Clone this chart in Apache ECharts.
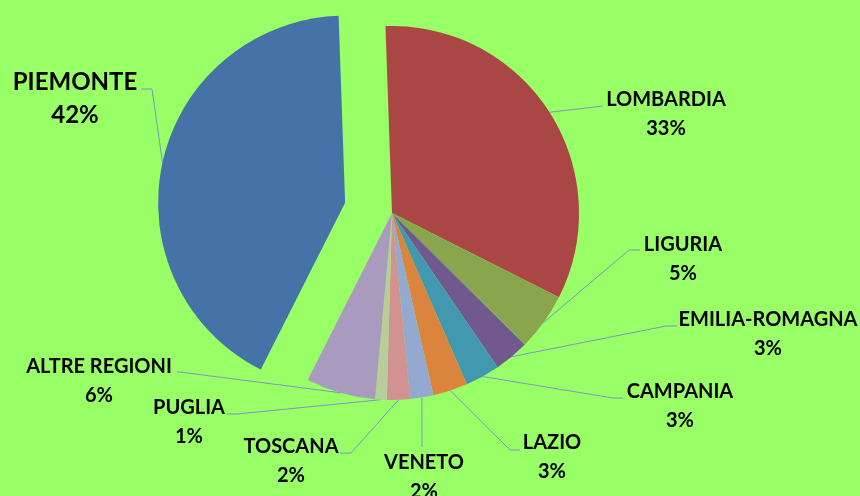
<!DOCTYPE html>
<html>
<head>
<meta charset="utf-8">
<script src="https://cdn.jsdelivr.net/npm/echarts@6/dist/echarts.min.js"></script>
<style>
  html, body { margin: 0; padding: 0; background: #99ff66; }
  #chart { width: 860px; height: 496px; }
</style>
</head>
<body>
<div id="chart"></div>
<script>
// regioni e percentuali (ordine orario dall'alto)
var regioni = ['LOMBARDIA', 'LIGURIA', 'EMILIA-ROMAGNA', 'CAMPANIA', 'LAZIO',
               'VENETO', 'TOSCANA', 'PUGLIA', 'ALTRE REGIONI', 'PIEMONTE'];
var percentuali = [33, 5, 3, 3, 3, 2, 2, 1, 6, 42];
var colori = ['#AA4643', '#89A54E', '#71588F', '#4198AF', '#DB843D',
              '#93A9CF', '#D19392', '#B9CD96', '#A99BBD', '#4572A7'];

// posizione etichette (centro testo) e punti di piega delle linee guida
var posEtichette = [
    [666, 114], [683, 259], [768, 334], [680, 406], [552, 457],
    [424, 477], [291, 461], [189, 422], [99, 381], [75, 99]
];
var piegheLinee = [
    [[603, 106], [603, 106]],
    [[629, 250], [640, 250]],
    [[666, 326], [677, 326]],
    [[613, 398], [623, 398]],
    [[510, 450], [520, 450]],
    [[422, 447], [422, 447]],
    [[351, 453], [340, 453]],
    [[237, 414], [227, 414]],
    [[180, 372], [177, 372]],
    [[152, 89], [141, 89]]
];

var centro = [392, 213];
var raggio = 187;
var distacco = 48;          // spicchio PIEMONTE staccato
var esploso = 'PIEMONTE';

// serie 1: spicchi + etichette (tranne quella dello spicchio staccato)
var datiTorta = [];
// serie 2: spicchi invisibili, solo etichetta dello spicchio staccato
var datiEtichetta = [];
for (var i = 0; i < regioni.length; i++) {
    var item = {
        name: regioni[i],
        value: percentuali[i],
        itemStyle: { color: colori[i] }
    };
    var item2 = {
        name: regioni[i],
        value: percentuali[i],
        itemStyle: { color: 'rgba(0,0,0,0)' },
        label: { show: false },
        labelLine: { show: false }
    };
    if (regioni[i] == esploso) {
        item.selected = true;
        item.label = { show: false };
        item.labelLine = { show: false };
        item2.label = { show: true, fontSize: 24, lineHeight: 33, color: '#000000', opacity: 1 };
        item2.labelLine = { show: true };
    }
    datiTorta.push(item);
    datiEtichetta.push(item2);
}

function layoutEtichette(params) {
    var k = params.dataIndex;
    var start = params.labelLinePoints ? params.labelLinePoints[0].slice() : piegheLinee[k][0];
    if (regioni[k] == esploso) {
        // sposta il punto d'attacco come lo spicchio staccato
        var vx = start[0] - centro[0], vy = start[1] - centro[1];
        var len = Math.sqrt(vx * vx + vy * vy) || 1;
        start = [start[0] + vx / len * distacco, start[1] + vy / len * distacco];
    }
    return {
        x: posEtichette[k][0],
        y: posEtichette[k][1],
        align: 'center',
        verticalAlign: 'middle',
        labelLinePoints: [start, piegheLinee[k][0], piegheLinee[k][1]]
    };
}

var stileEtichetta = {
    show: true,
    position: 'outside',
    formatter: function(p) {
        return p.name + '\n' + p.percent + '%';
    },
    fontFamily: 'Lato',
    fontWeight: 'bold',
    fontSize: 20,
    lineHeight: 29,
    color: '#000000',
    align: 'center'
};

var myChart = echarts.init(document.getElementById('chart'));
var option = {
    backgroundColor: '#99ff66',
    animation: false,
    series: [{
            type: 'pie',
            center: centro,
            radius: raggio,
            startAngle: 92,
            clockwise: true,
            selectedMode: 'single',
            selectedOffset: distacco,
            avoidLabelOverlap: false,
            emphasis: { disabled: true },
            itemStyle: { borderWidth: 0 },
            label: stileEtichetta,
            labelLine: {
                show: true,
                lineStyle: { color: '#7896c8', width: 1 }
            },
            labelLayout: layoutEtichette,
            data: datiTorta
        },
        {
            type: 'pie',
            center: centro,
            radius: raggio,
            startAngle: 92,
            clockwise: true,
            silent: true,
            avoidLabelOverlap: false,
            emphasis: { disabled: true },
            itemStyle: { borderWidth: 0 },
            label: stileEtichetta,
            labelLine: {
                show: true,
                lineStyle: { color: '#7896c8', width: 1 }
            },
            labelLayout: layoutEtichette,
            data: datiEtichetta
        }
    ]
};
myChart.setOption(option);
</script>
</body>
</html>
